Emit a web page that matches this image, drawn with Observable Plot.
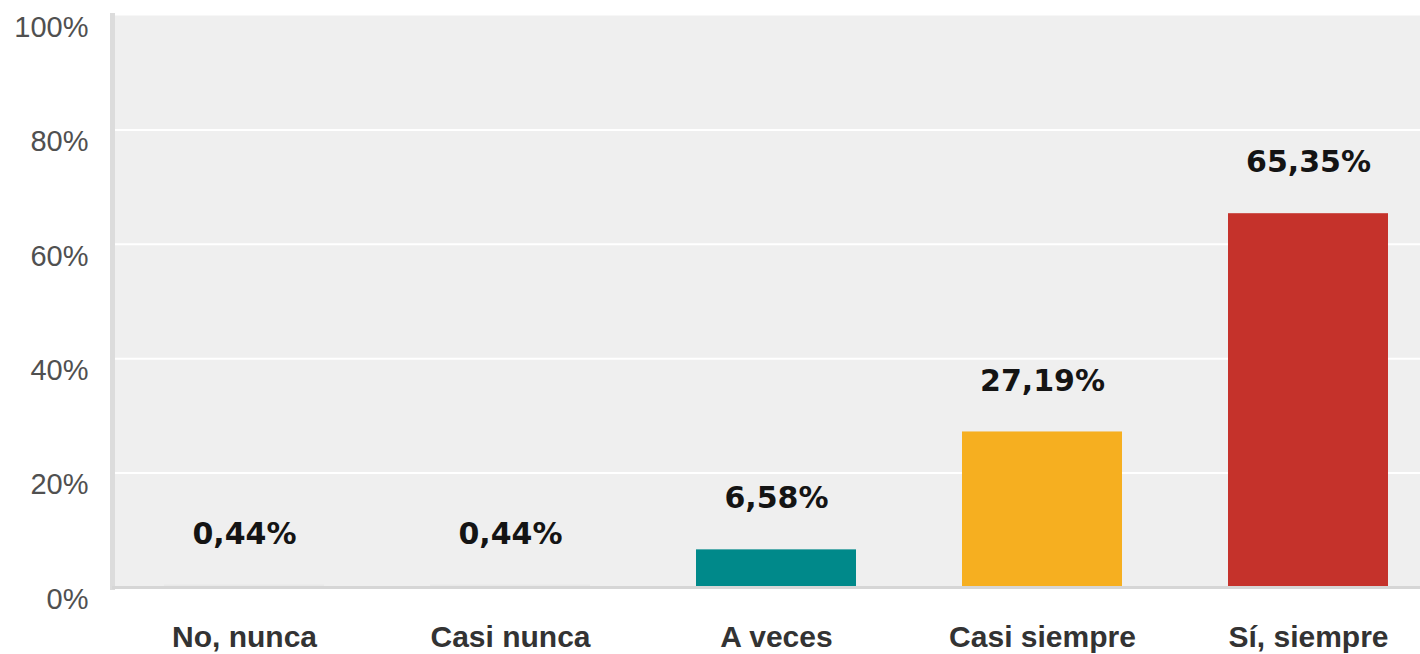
<!DOCTYPE html>
<html>
<head>
<meta charset="utf-8">
<script src="https://cdn.jsdelivr.net/npm/d3@7"></script>
<script src="https://cdn.jsdelivr.net/npm/@observablehq/plot@0.6"></script>
<style>
  html, body { margin: 0; padding: 0; background: #ffffff; }
  #chart svg { display: block; }
</style>
</head>
<body>
<div id="chart"></div>
<script>
const categories = ["No, nunca", "Casi nunca", "A veces", "Casi siempre", "Sí, siempre"];
const values = [0.44, 0.44, 6.58, 27.19, 65.35];
const barColors = ["#e9e9e9", "#e9e9e9", "#00898a", "#f6af20", "#c5322b"];
const yTicks = [0, 20, 40, 60, 80, 100];
const gridTicks = [20, 40, 60, 80];

const data = categories.map((c, i) => ({ category: c, value: values[i], color: barColors[i] }));
const fmt = v => v.toFixed(2).replace(".", ",") + "%";

const chart = Plot.plot({
  width: 1420,
  height: 654,
  marginLeft: 112,
  marginRight: 0,
  marginTop: 15,
  marginBottom: 67,
  x: { domain: categories, range: [109, 1442.5], paddingInner: 0.4, paddingOuter: 0.2 },
  y: { domain: [0, 100] },
  marks: [
    Plot.frame({ fill: "#efefef", stroke: null }),
    Plot.ruleY(gridTicks, { stroke: "#ffffff", strokeWidth: 2 }),
    Plot.frame({ anchor: "left", stroke: "#dcdcdc", strokeWidth: 5 }),
    Plot.barY(data, { x: "category", y: "value", fill: "color" }),
    Plot.ruleY([0], { stroke: "#d6d6d6", strokeWidth: 3 }),
    Plot.text(data, {
      x: "category", y: "value", text: d => fmt(d.value),
      dy: -51, lineAnchor: "middle", textAnchor: "middle",
      fontFamily: "DejaVu Sans", fontWeight: "bold", fontSize: 30, fill: "#141414"
    }),
    Plot.axisY({
      ticks: yTicks, tickFormat: d => d + "%", tickSize: 0, tickPadding: 24,
      dy: 12, fontSize: 29, fontFamily: "Liberation Sans", color: "#505050", label: null
    }),
    Plot.axisX({
      tickSize: 0, tickPadding: 38, fontSize: 30, fontWeight: "bold",
      fontFamily: "Liberation Sans", color: "#333333", label: null
    })
  ]
});
document.getElementById("chart").appendChild(chart);
</script>
</body>
</html>
